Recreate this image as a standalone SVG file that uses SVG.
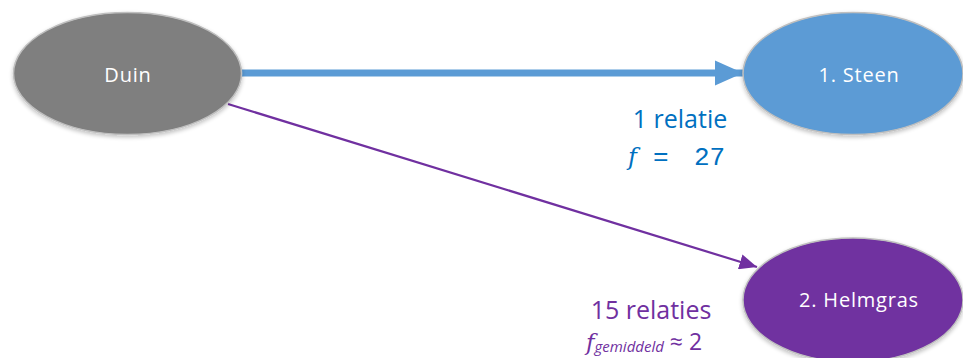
<svg xmlns="http://www.w3.org/2000/svg" width="963" height="358" viewBox="0 0 963 358">
<style>
.node{stroke:#bfbfbf;stroke-width:1.5}
.lbl{font-family:"Open Sans","Liberation Sans",sans-serif;font-size:20px;letter-spacing:0.8px;fill:#fff;text-anchor:middle}
.t{font-family:"Open Sans","Liberation Sans",sans-serif;font-size:25px}
.mono{font-family:"Liberation Mono","DejaVu Sans Mono",monospace;font-size:26px}
.it{font-family:"DejaVu Serif",serif;font-style:italic}
</style>
<defs>
<marker id="ab" markerWidth="4" markerHeight="3.6" refX="4" refY="1.8" orient="auto" markerUnits="strokeWidth"><path d="M0,0 L4,1.8 L0,3.6 Z" fill="#5B9BD5"/></marker>
<marker id="ap" markerWidth="8" markerHeight="7" refX="8" refY="3.5" orient="auto" markerUnits="strokeWidth"><path d="M0,0 L8,3.5 L0,7 Z" fill="#7030A0"/></marker>
<filter id="sh" x="-10%" y="-10%" width="120%" height="125%"><feGaussianBlur in="SourceAlpha" stdDeviation="2"/><feOffset dy="2"/><feComponentTransfer><feFuncA type="linear" slope="0.25"/></feComponentTransfer><feMerge><feMergeNode/><feMergeNode in="SourceGraphic"/></feMerge></filter>
</defs>
<g id="connectors">
<line x1="242" y1="73" x2="743" y2="73" stroke="#5B9BD5" stroke-width="7" marker-end="url(#ab)"/>
<line x1="228" y1="104" x2="757" y2="267" stroke="#7030A0" stroke-width="2.2" marker-end="url(#ap)"/>
</g>
<g id="duin">
<ellipse class="node" cx="127.5" cy="73.5" rx="114" ry="61" fill="#7F7F7F" filter="url(#sh)"/>
<text class="lbl" x="128" y="82">Duin</text>
</g>
<g id="steen">
<ellipse class="node" cx="853" cy="73.5" rx="110" ry="61" fill="#5B9BD5" filter="url(#sh)"/>
<text class="lbl" x="859" y="82">1. Steen</text>
</g>
<g id="helmgras">
<ellipse class="node" cx="853" cy="300" rx="110" ry="62" fill="#7030A0" filter="url(#sh)"/>
<text class="lbl" x="859" y="307">2. Helmgras</text>
</g>
<g id="label-steen">
<text class="t" x="680" y="128" fill="#0070C0" text-anchor="middle">1 relatie</text>
<text x="628" y="165" fill="#0070C0"><tspan class="it" font-size="24">f</tspan><tspan class="mono" x="653">=</tspan><tspan class="mono" x="694">27</tspan></text>
</g>
<g id="label-helmgras">
<text class="t" x="651" y="319" fill="#7030A0" text-anchor="middle">15 relaties</text>
<text x="586" y="350" fill="#7030A0" font-family="'Open Sans','Liberation Sans',sans-serif" font-size="23"><tspan class="it">f</tspan><tspan font-size="15" font-style="italic" dy="2">gemiddeld</tspan><tspan dy="-2"> ≈ 2</tspan></text>
</g>
</svg>
